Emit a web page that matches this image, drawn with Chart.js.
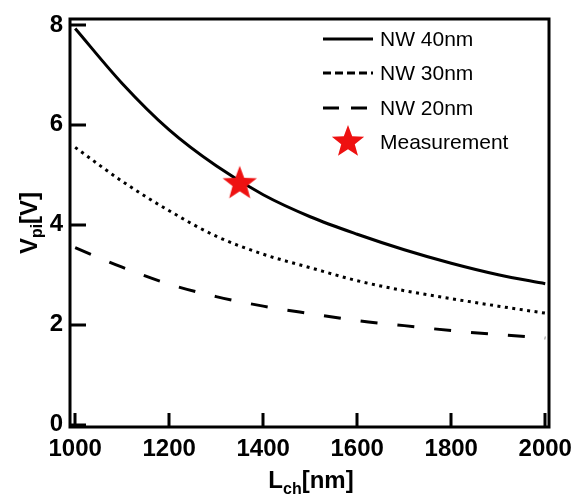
<!DOCTYPE html>
<html>
<head>
<meta charset="utf-8">
<script src="https://cdn.jsdelivr.net/npm/chart.js@4"></script>
<style>
  body { margin: 0; background: #fff; }
  canvas { display: block; }
</style>
</head>
<body>
<canvas id="chart" width="571" height="498"></canvas>
<script>
// channel length [nm]
const lengths = [1000, 1100, 1200, 1300, 1400, 1500, 1600, 1700, 1800, 1900, 2000];
// V_pi [V] per nanowire width
const nw40 = [7.93, 6.83, 5.9, 5.18, 4.6, 4.16, 3.81, 3.5, 3.23, 3.0, 2.82];
const nw30 = [5.55, 4.87, 4.28, 3.77, 3.41, 3.14, 2.88, 2.68, 2.52, 2.37, 2.23];
const nw20 = [3.54, 3.15, 2.81, 2.56, 2.37, 2.22, 2.08, 1.98, 1.88, 1.8, 1.73];
// measured point
const measL = [1350];
const measV = [4.82];

const seriesLabels = ['NW 40nm', 'NW 30nm', 'NW 20nm', 'Measurement'];
const xTicks = [1000, 1200, 1400, 1600, 1800, 2000];
const yTicks = [0, 2, 4, 6, 8];

const FONT = "'Liberation Sans', Arial, sans-serif";

// 빨간 별 마커
function makeStar(r, color) {
    const c = document.createElement('canvas');
    c.width = c.height = r * 2 + 2;
    const g = c.getContext('2d');
    const cx = r + 1, cy = r + 1, inner = r * 0.42;
    g.beginPath();
    for (let i = 0; i < 10; i++) {
        const rad = i % 2 === 0 ? r : inner;
        const a = -Math.PI / 2 + i * Math.PI / 5;
        g.lineTo(cx + rad * Math.cos(a), cy + rad * Math.sin(a));
    }
    g.closePath();
    g.fillStyle = color;
    g.fill();
    return c;
}
const star = makeStar(18, '#ee1111');
const legendStar = makeStar(17, '#ee1111');

const toPts = (xs, ys) => xs.map((x, i) => ({ x: x, y: ys[i] }));

const lineStyles = [
    { dash: [], legendDash: [] },
    { dash: [3, 4.5], legendDash: [8, 4] },
    { dash: [17, 20], legendDash: [16, 12] }
];

// 프레임, 안쪽 눈금, 축 제목, 범례
const decor = {
    id: 'decor',
    afterDraw(chart) {
        const ctx = chart.ctx;
        const a = chart.chartArea;
        const xs = chart.scales.x, ys = chart.scales.y;
        ctx.save();
        ctx.strokeStyle = '#000';
        ctx.lineWidth = 3;
        ctx.setLineDash([]);
        ctx.strokeRect(a.left, a.top, a.right - a.left, a.bottom - a.top);

        ctx.beginPath();
        yTicks.forEach(v => {
            const py = Math.round(ys.getPixelForValue(v));
            ctx.moveTo(a.left, py);
            ctx.lineTo(a.left + 16, py);
        });
        xTicks.forEach(v => {
            const px = Math.round(xs.getPixelForValue(v));
            ctx.moveTo(px, a.bottom);
            ctx.lineTo(px, a.bottom - 14);
        });
        ctx.stroke();

        // x 축 제목 L_ch[nm]
        ctx.fillStyle = '#000';
        ctx.textBaseline = 'alphabetic';
        ctx.textAlign = 'left';
        const big = 'bold 24px ' + FONT, small = 'bold 16px ' + FONT;
        ctx.font = big; const wL = ctx.measureText('L').width;
        ctx.font = small; const wS = ctx.measureText('ch').width;
        ctx.font = big; const wU = ctx.measureText('[nm]').width;
        let x0 = 311 - (wL + wS + wU) / 2;
        const base = 488;
        ctx.font = big; ctx.fillText('L', x0, base);
        ctx.font = small; ctx.fillText('ch', x0 + wL, base + 6);
        ctx.font = big; ctx.fillText('[nm]', x0 + wL + wS, base);

        // y 축 제목 V_pi[V]
        ctx.save();
        ctx.translate(37, 223);
        ctx.rotate(-Math.PI / 2);
        ctx.font = big; const wV = ctx.measureText('V').width;
        ctx.font = small; const wP = ctx.measureText('pi').width;
        ctx.font = big; const wB = ctx.measureText('[V]').width;
        x0 = -(wV + wP + wB) / 2;
        ctx.font = big; ctx.fillText('V', x0, 0);
        ctx.font = small; ctx.fillText('pi', x0 + wV, 5);
        ctx.font = big; ctx.fillText('[V]', x0 + wV + wP, 0);
        ctx.restore();

        // 범례
        const rows = [39, 73, 108, 142];
        ctx.font = '21px ' + FONT;
        ctx.textBaseline = 'middle';
        seriesLabels.forEach((lab, i) => {
            const y = rows[i];
            if (i < 3) {
                ctx.beginPath();
                ctx.lineWidth = 3;
                ctx.setLineDash(lineStyles[i].legendDash);
                ctx.moveTo(323, y);
                ctx.lineTo(373, y);
                ctx.stroke();
                ctx.setLineDash([]);
            } else {
                ctx.drawImage(legendStar, 348 - legendStar.width / 2, y - legendStar.height / 2);
            }
            ctx.fillText(lab, 380, y + 1);
        });
        ctx.restore();
    }
};

const curveData = [nw40, nw30, nw20];
const datasets = [{
    label: seriesLabels[3],
    data: toPts(measL, measV),
    showLine: false,
    pointStyle: star,
    pointRadius: 18,
    order: 0
}];
curveData.forEach((vals, i) => {
    datasets.push({
        label: seriesLabels[i],
        data: toPts(lengths, vals),
        borderColor: '#000',
        borderWidth: 3,
        borderDash: lineStyles[i].dash,
        pointRadius: 0,
        cubicInterpolationMode: 'monotone',
        fill: false,
        order: 1
    });
});

new Chart(document.getElementById('chart').getContext('2d'), {
    type: 'line',
    data: { datasets: datasets },
    options: {
        responsive: false,
        animation: false,
        layout: { padding: { top: 10, right: 22, left: 0, bottom: 0 } },
        plugins: { legend: { display: false }, tooltip: { enabled: false } },
        scales: {
            x: {
                type: 'linear',
                min: 989,
                max: 2008,
                grid: { display: false, drawTicks: false },
                border: { display: false },
                afterBuildTicks: s => { s.ticks = xTicks.map(v => ({ value: v })); },
                afterFit: s => {
                    s.height = 71;
                    s.paddingLeft = 0;
                    s.paddingRight = 0;
                },
                ticks: {
                    padding: 8,
                    color: '#000',
                    maxRotation: 0,
                    autoSkip: false,
                    callback: v => String(v),
                    font: { family: FONT, size: 24, weight: 'bold' }
                }
            },
            y: {
                min: -0.05,
                max: 8.12,
                grid: { display: false, drawTicks: false },
                border: { display: false },
                afterBuildTicks: s => { s.ticks = yTicks.map(v => ({ value: v })); },
                afterFit: s => {
                    s.width = 70;
                    s.paddingTop = 0;
                    s.paddingBottom = 0;
                },
                ticks: {
                    padding: 7,
                    color: '#000',
                    callback: v => String(v),
                    font: { family: FONT, size: 24, weight: 'bold' }
                }
            }
        }
    },
    plugins: [decor]
});
</script>
</body>
</html>
